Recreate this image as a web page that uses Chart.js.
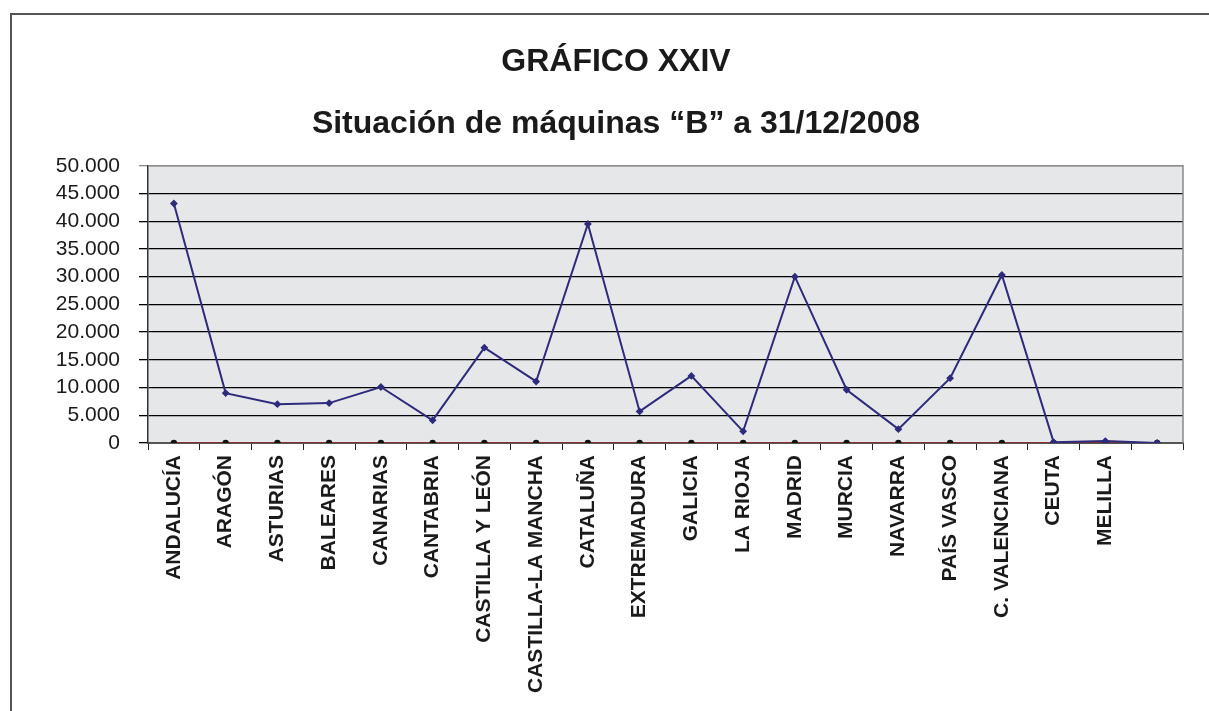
<!DOCTYPE html>
<html>
<head>
<meta charset="utf-8">
<script src="https://cdn.jsdelivr.net/npm/chart.js@4"></script>
<style>
  html, body { margin: 0; padding: 0; background: #fff; }
  canvas { display: block; }
</style>
</head>
<body>
<canvas id="grafico" width="1209" height="711"></canvas>
<script>
// Comunidades (la última categoría aparece sin rótulo en el original)
const regiones = [
  'ANDALUCÍA', 'ARAGÓN', 'ASTURIAS', 'BALEARES', 'CANARIAS', 'CANTABRIA',
  'CASTILLA Y LEÓN', 'CASTILLA-LA MANCHA', 'CATALUÑA', 'EXTREMADURA', 'GALICIA',
  'LA RIOJA', 'MADRID', 'MURCIA', 'NAVARRA', 'PAÍS VASCO', 'C. VALENCIANA',
  'CEUTA', 'MELILLA', ''
];
const maquinasB = [
  43200, 9000, 7000, 7200, 10100, 4100, 17200, 11100, 39500, 5700, 12100,
  2100, 30000, 9600, 2500, 11700, 30300, 150, 350, 0
];
const serieCero = [0, 0, 0, 0, 0, 0, 0, 0, 0, 0, 0, 0, 0, 0, 0, 0, 0, 0, 0, 0];
const ejeYMax = 50000;
const ejeYPaso = 5000;

const fuente = '"Liberation Sans", Arial, Helvetica, sans-serif';

const formatoMiles = v => String(v).replace(/\B(?=(\d{3})+(?!\d))/g, '.');

// fondo, marco de página y fondo gris del área de trazado
const marco = {
  id: 'marco',
  beforeDraw: chart => {
    const { ctx, chartArea: a } = chart;
    ctx.save();
    ctx.fillStyle = '#fff';
    ctx.fillRect(0, 0, chart.width, chart.height);
    ctx.fillStyle = '#e6e7e9';
    ctx.fillRect(a.left, a.top, a.right - a.left, a.bottom - a.top);
    ctx.strokeStyle = '#555';
    ctx.lineWidth = 2;
    ctx.beginPath();
    ctx.moveTo(10, 14);
    ctx.lineTo(chart.width, 14);
    ctx.moveTo(11, 14);
    ctx.lineTo(11, chart.height);
    ctx.stroke();
    ctx.restore();
  },
  beforeDatasetsDraw: chart => {
    const { ctx, chartArea: a } = chart;
    ctx.save();
    ctx.strokeStyle = '#8a8a8a';
    ctx.lineWidth = 1.5;
    ctx.beginPath();
    ctx.moveTo(a.left, a.top);
    ctx.lineTo(a.right, a.top);
    ctx.lineTo(a.right, a.bottom);
    ctx.stroke();
    ctx.restore();
  }
};

new Chart(document.getElementById('grafico'), {
  type: 'line',
  data: {
    labels: regiones,
    datasets: [
      {
        label: 'Máquinas B',
        data: maquinasB,
        borderColor: '#2e2b7c',
        backgroundColor: '#2e2b7c',
        borderWidth: 2,
        pointStyle: 'rectRot',
        pointRadius: 2.5,
        tension: 0,
        order: 0
      },
      {
        label: 'Serie 2',
        data: serieCero,
        borderColor: '#8b3030',
        backgroundColor: '#111',
        pointBorderColor: '#111',
        borderWidth: 2,
        pointRadius: 2.2,
        tension: 0,
        order: 1
      }
    ]
  },
  options: {
    responsive: false,
    animation: false,
    devicePixelRatio: 1,
    layout: { padding: { top: 14, left: 49, right: 26, bottom: 0 } },
    plugins: {
      legend: { display: false },
      tooltip: { enabled: false },
      title: {
        display: true,
        text: 'GRÁFICO XXIV',
        color: '#1a1a1a',
        font: { family: fuente, size: 32, weight: 'bold' },
        padding: { top: 29, bottom: 0 }
      },
      subtitle: {
        display: true,
        text: 'Situación de máquinas “B” a 31/12/2008',
        color: '#1a1a1a',
        font: { family: fuente, size: 32, weight: 'bold' },
        padding: { top: 24, bottom: 22 }
      }
    },
    scales: {
      x: {
        offset: true,
        grid: {
          offset: true,
          drawOnChartArea: false,
          drawTicks: true,
          tickLength: 7,
          color: '#222'
        },
        border: { display: true, color: '#555', width: 2 },
        ticks: {
          autoSkip: false,
          maxRotation: 90,
          minRotation: 90,
          padding: 5,
          color: '#1a1a1a',
          font: { family: fuente, size: 21, weight: 'bold' }
        },
        afterFit: scale => { scale.height = 268; }
      },
      y: {
        min: 0,
        max: ejeYMax,
        grid: {
          color: c => (c.tick && c.tick.value === ejeYMax) ? '#8a8a8a' : '#000',
          lineWidth: 1.3,
          drawTicks: true,
          tickLength: 9
        },
        border: { display: true, color: '#333', width: 1.5 },
        ticks: {
          stepSize: ejeYPaso,
          autoSkip: false,
          padding: 19,
          color: '#1a1a1a',
          font: { family: fuente, size: 21, lineHeight: 1 },
          callback: v => formatoMiles(v)
        },
        afterFit: scale => { scale.width = 99; }
      }
    }
  },
  plugins: [marco]
});
</script>
</body>
</html>
